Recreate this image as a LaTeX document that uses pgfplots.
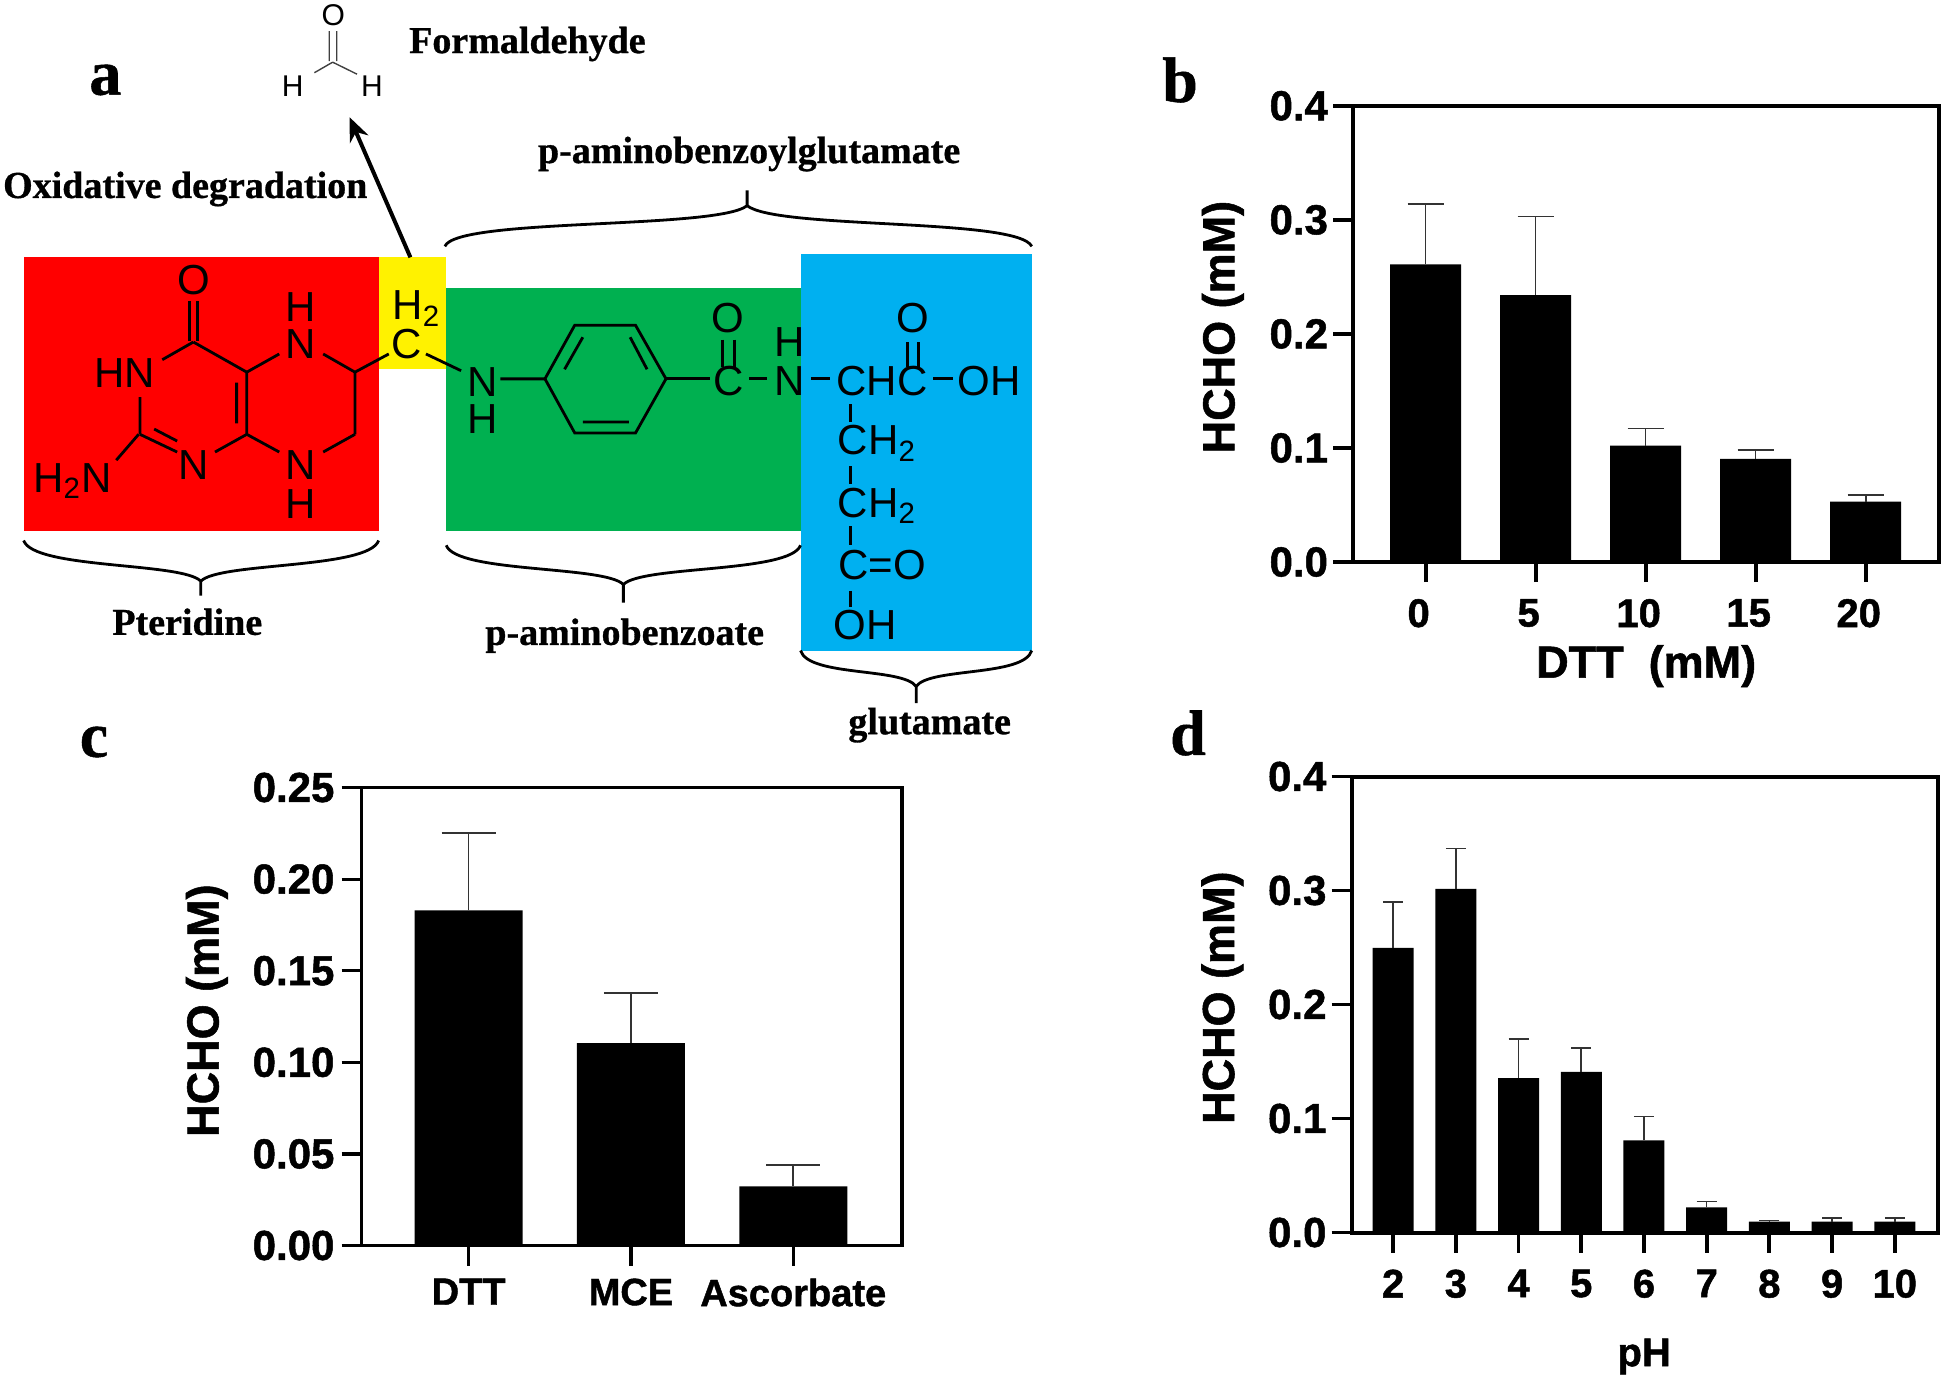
\documentclass[border=0pt]{standalone}
\usepackage{fontspec}
\usepackage{pgfplots}
\pgfplotsset{compat=1.18}
\usetikzlibrary{arrows.meta}
\setmainfont{Liberation Sans}[BoldFeatures={FakeBold=1.2}]
\newfontfamily\tnr{Liberation Serif}[BoldFeatures={FakeBold=0.8}]
\newcommand{\fs}[1]{\fontsize{#1}{#1}\selectfont}
\pgfplotsset{
  panel/.style={
    scale only axis, clip=false, axis on top=false,
    axis line style={line width=2pt},
    tick style={line width=1.9pt,black},
    tick align=outside, major tick length=10pt,
    xtick pos=bottom, ytick pos=left,
    minor tick num=0, ymin=0,
    yticklabel style={font=\bfseries\fs{21}, xshift=1pt},
    xticklabel style={font=\bfseries\fs{20}, yshift=-5pt},
    xlabel style={font=\bfseries\fs{22.5}},
    ylabel style={font=\bfseries\fs{22.5}},
  },
  barsty/.style={
    ybar, bar shift=0pt, fill=black, draw=none, bar width=#1,
    error bars/y dir=plus, error bars/y explicit,
    error bars/error bar style={line width=0.8pt,black!80},
  },
}
\begin{document}
\begin{tikzpicture}
\path[use as bounding box] (0pt,0pt) rectangle (973pt,-691pt);
% ---------- panel a ----------
\begin{scope}[x=0.33806pt,y=-0.23916pt]
\fill[red] (35,538) rectangle (560,1110);
\fill[yellow] (560,538) rectangle (660,772);
\fill[fill={rgb,255:red,0;green,176;blue,80}] (660,602) rectangle (1184,1110);
\fill[fill={rgb,255:red,0;green,176;blue,240}] (1184,532) rectangle (1526,1360);
\begin{scope}[line width=1.4pt,black]
\draw (280,630)--(280,712) (292,630)--(292,712);
\draw (286,715)--(240,752) (207,830)--(207,908) (207,908)--(262,945) (228,897)--(262,922);
\draw (205,908)--(172,962) (318,945)--(365,908) (365,908)--(365,778) (350,885)--(350,800);
\draw (286,715)--(365,778) (365,778)--(413,740) (478,740)--(525,778) (525,778)--(575,740);
\draw (525,778)--(525,908) (525,908)--(478,945) (365,908)--(413,945);
\draw (630,740)--(682,775) (740,792)--(806,792);
\draw (806,792)--(850,680)--(940,680)--(985,792)--(940,905)--(850,905)--cycle;
\draw (835,772)--(862,705) (957,772)--(932,705) (862,882)--(930,882);
\draw (985,792)--(1050,792) (1068,710)--(1068,768) (1086,710)--(1086,768);
\draw (1108,792)--(1135,792) (1200,792)--(1228,792);
\draw (1342,715)--(1342,768) (1358,715)--(1358,768) (1380,792)--(1410,792);
\draw (1258,845)--(1258,882) (1258,975)--(1258,1012) (1258,1100)--(1258,1140) (1258,1235)--(1258,1270);
\end{scope}
\begin{scope}[every node/.style={font=\fs{21},inner sep=0pt,text=black}]
\node at (286,586) {O};
\node at (184,780) {HN};
\node at (107,1005) {H\textsubscript{2}N};
\node at (286,972) {N};
\node at (445,720) {N};
\node at (445,641) {H};
\node at (445,973) {N};
\node at (445,1054) {H};
\node at (602,720) {C};
\node at (616,645) {H\textsubscript{2}};
\node at (714,798) {N};
\node at (714,877) {H};
\node at (1077,665) {O};
\node at (1077,797) {C};
\node at (1168,797) {N};
\node at (1168,715) {H};
\node at (1282,797) {CH};
\node at (1350,797) {C};
\node at (1350,665) {O};
\node at (1463,797) {OH};
\node at (1297,927) {CH\textsubscript{2}};
\node at (1297,1057) {CH\textsubscript{2}};
\node at (1305,1182) {C=O};
\node at (1280,1307) {OH};
\end{scope}
% braces
\begin{scope}[line width=1.4pt,black]
\draw (658,515) .. controls (675,455) and (1060,480) .. (1105,430) -- (1105,398);
\draw (1105,430) .. controls (1150,480) and (1505,455) .. (1526,515);
\draw (35,1130) .. controls (50,1190) and (270,1175) .. (297,1215) -- (297,1245);
\draw (297,1215) .. controls (324,1175) and (545,1190) .. (560,1130);
\draw (660,1140) .. controls (675,1198) and (895,1182) .. (922,1222) -- (922,1260);
\draw (922,1222) .. controls (949,1182) and (1169,1198) .. (1184,1140);
\draw (1184,1360) .. controls (1196,1415) and (1335,1395) .. (1355,1435) -- (1355,1470);
\draw (1355,1435) .. controls (1375,1395) and (1514,1415) .. (1526,1360);
\end{scope}
\draw[line width=2pt,-{Stealth[length=12pt,width=10pt]}] (607,538)--(517,245);
% formaldehyde
\node[font=\fs{15},inner sep=0pt] at (493,32) {O};
\node[font=\fs{15},inner sep=0pt] at (433,180) {H};
\node[font=\fs{15},inner sep=0pt] at (550,180) {H};
\draw[line width=0.7pt,black!75] (487,65)--(487,128) (498,65)--(498,128) (492,130)--(465,152) (492,130)--(528,155);
% labels
\begin{scope}[every node/.style={font=\tnr\bfseries\fs{19},inner sep=0pt,text=black}]
\node at (780,92) {Formaldehyde};
\node at (274,395) {Oxidative degradation};
\node at (1108,322) {p-aminobenzoylglutamate};
\node at (277,1300) {Pteridine};
\node at (924,1329) {p-aminobenzoate};
\node at (1375,1516) {glutamate};
\end{scope}
\end{scope}
% panel letters
\node[font=\tnr\bfseries\fs{32},inner sep=0pt] at (52.7pt,-40pt) {a};
\node[font=\tnr\bfseries\fs{32},inner sep=0pt] at (590pt,-40pt) {b};
\node[font=\tnr\bfseries\fs{32},inner sep=0pt] at (47pt,-371pt) {c};
\node[font=\tnr\bfseries\fs{32},inner sep=0pt] at (594pt,-366.5pt) {d};
% ---------- panel b ----------
\begin{axis}[panel, at={(676.5pt,-281pt)}, anchor=south west,
  width=293.2pt, height=228.1pt,
  xmin=-0.66, xmax=4.67, ymax=0.4,
  xtick={0,1,2,3,4}, xticklabels={0,5,10,15,20},
  ytick={0,0.1,0.2,0.3,0.4}, yticklabels={0.0,0.1,0.2,0.3,0.4},
  xticklabel style={xshift=-3.5pt},
  xlabel={DTT\ \ (mM)}, ylabel={HCHO (mM)},
  xlabel style={at={(axis description cs:0.5,-0.228)},anchor=center},
  ylabel style={at={(axis description cs:-0.222,0.515)},anchor=center},
]
\addplot[barsty=35.5pt, error bars/error mark options={rotate=90,mark size=9pt,line width=0.8pt,black!80}]
  coordinates {(0,0.261) += (0,0.053) (1,0.234) += (0,0.069) (2,0.102) += (0,0.015) (3,0.0905) += (0,0.0075) (4,0.053) += (0,0.006)};
\end{axis}
% ---------- panel c ----------
\begin{axis}[panel, at={(180.75pt,-622.75pt)}, anchor=south west,
  width=270.25pt, height=229pt,
  xmin=-0.66, xmax=2.67, ymax=0.25,
  xtick={0,1,2}, xticklabels={DTT,MCE,Ascorbate},
  ytick={0,0.05,0.1,0.15,0.2,0.25}, yticklabels={0.00,0.05,0.10,0.15,0.20,0.25},
  xticklabel style={font=\bfseries\fs{19},yshift=2pt},
  yticklabel style={xshift=-1pt},
  ylabel={HCHO (mM)},
  axis line style={line width=1.8pt},
  tick style={line width=1.6pt,black},
  ylabel style={at={(axis description cs:-0.286,0.513)},anchor=center},
]
\addplot[barsty=54pt, error bars/error mark options={rotate=90,mark size=13.5pt,line width=0.8pt,black!80}]
  coordinates {(0,0.183) += (0,0.0423) (1,0.1105) += (0,0.0272) (2,0.0323) += (0,0.0118)};
\end{axis}
% ---------- panel d ----------
\begin{axis}[panel, at={(675.75pt,-616.25pt)}, anchor=south west,
  width=293.25pt, height=228pt,
  xmin=-0.664, xmax=8.69, ymax=0.4,
  xtick={0,1,2,3,4,5,6,7,8}, xticklabels={2,3,4,5,6,7,8,9,10},
  ytick={0,0.1,0.2,0.3,0.4}, yticklabels={0.0,0.1,0.2,0.3,0.4},
  xlabel={pH}, ylabel={HCHO (mM)},
  xlabel style={at={(axis description cs:0.499,-0.272)},anchor=center,font=\bfseries\fs{20}},
  ylabel style={at={(axis description cs:-0.22,0.515)},anchor=center},
]
\addplot[barsty=20.5pt, error bars/error mark options={rotate=90,mark size=5pt,line width=0.8pt,black!80}]
  coordinates {(0,0.2498) += (0,0.0399) (1,0.3015) += (0,0.0354) (2,0.1354) += (0,0.0346) (3,0.141) += (0,0.021) (4,0.0808) += (0,0.0211) (5,0.0221) += (0,0.0052) (6,0.0096) += (0,0.0011) (7,0.0096) += (0,0.0029) (8,0.0096) += (0,0.0029)};
\end{axis}
\end{tikzpicture}
\end{document}
